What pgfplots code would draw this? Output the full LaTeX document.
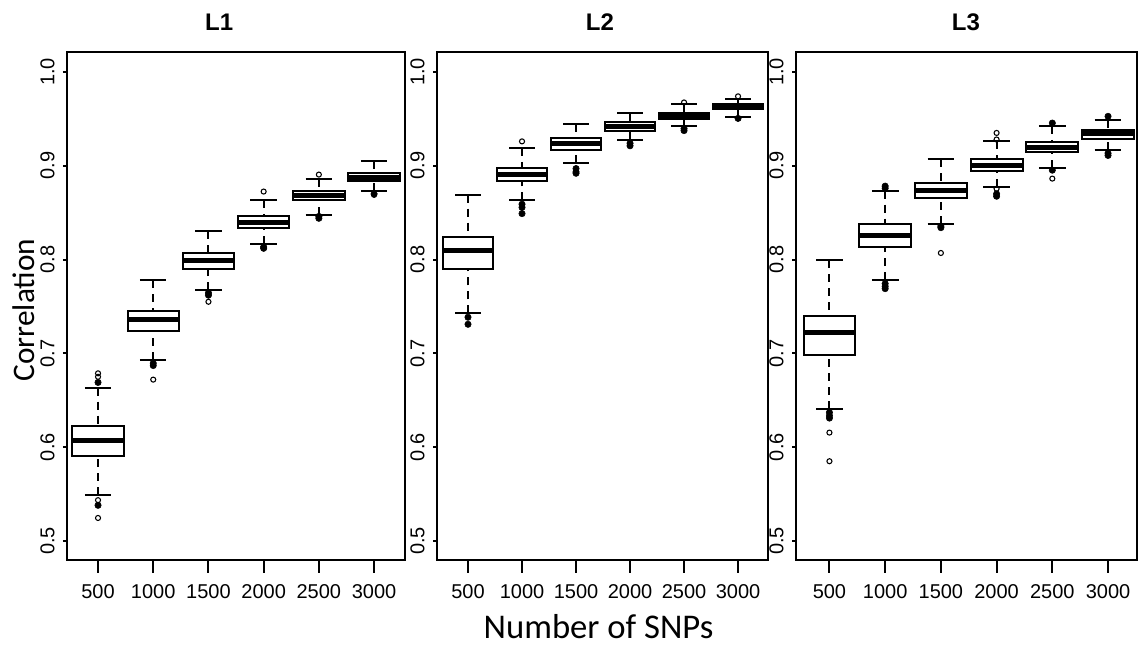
\documentclass[border=0pt]{standalone}
\usepackage{pgfplots}
\pgfplotsset{compat=1.18}
\usepgfplotslibrary{statistics}
\usepackage{fontspec}
\setmainfont{Liberation Sans}
\newfontfamily\calibri{Carlito}

\pgfplotsset{
  panel/.style={
    scale only axis, anchor=south west,
    height=381pt,
    ymin=0.4797, ymax=1.0213,
    ytick={0.5,0.6,0.7,0.8,0.9,1.0},
    yticklabels={0.5,0.6,0.7,0.8,0.9,1.0},
    xtick={1,2,3,4,5,6},
    xticklabels={500,1000,1500,2000,2500,3000},
    tick align=outside, xtick pos=left, ytick pos=left,
    axis line style={line width=1.5pt, black},
    xtick style={line width=1.5pt, black, /pgfplots/major tick length=9.75pt},
    ytick style={line width=1.5pt, black, /pgfplots/major tick length=3pt},
    tick label style={font=\fontsize{15}{18}\selectfont, black},
    yticklabel style={rotate=90, anchor=base, yshift=5.25pt},
    xticklabel style={anchor=base, yshift=-24.75pt},
    title style={font=\bfseries\fontsize{18}{21}\selectfont},
  },
  boxstyle/.style={black, line width=1.5pt, solid,
    mark=o, mark size=1.9pt, mark options={line width=0.8pt, solid},
    boxplot/draw direction=y,
    boxplot/box extend=0.93, boxplot/whisker extend=0.48,
    boxplot/every box/.style={fill=white, draw=black, line width=1.5pt},
    boxplot/every median/.style={line width=3.75pt},
    boxplot/draw/lower whisker/.code={%
      \draw[black, line width=1.5pt, dash pattern=on 6pt off 4.5pt]
        (boxplot box cs:\pgfplotsboxplotvalue{lower whisker},0.5) --
        (boxplot box cs:\pgfplotsboxplotvalue{lower quartile},0.5);
      \draw[black, line width=1.5pt]
        (boxplot whisker cs:\pgfplotsboxplotvalue{lower whisker},0) --
        (boxplot whisker cs:\pgfplotsboxplotvalue{lower whisker},1);
    },
    boxplot/draw/upper whisker/.code={%
      \draw[black, line width=1.5pt, dash pattern=on 6pt off 4.5pt]
        (boxplot box cs:\pgfplotsboxplotvalue{upper whisker},0.5) --
        (boxplot box cs:\pgfplotsboxplotvalue{upper quartile},0.5);
      \draw[black, line width=1.5pt]
        (boxplot whisker cs:\pgfplotsboxplotvalue{upper whisker},0) --
        (boxplot whisker cs:\pgfplotsboxplotvalue{upper whisker},1);
    },
  },
  filled/.style={only marks, mark=*, mark size=2.4pt, black},
}
% draw position, lower whisker, lower quartile, median, upper quartile, upper whisker
\newcommand{\bp}[6]{\addplot[boxstyle, boxplot prepared={draw position=#1, lower whisker=#2, lower quartile=#3, median=#4, upper quartile=#5, upper whisker=#6}]}

\begin{document}
\begin{tikzpicture}
\useasboundingbox (0,0) rectangle (853.5pt,486pt);

% ---------------- L1 ----------------
\begin{axis}[panel, at={(50.25pt,66pt)}, width=253.5pt, xmin=0.438, xmax=6.56,
  title=L1, title style={at={(axis description cs:0.45,1.0177)}},
  ylabel={Correlation},
  ylabel style={font=\calibri\fontsize{23.5}{28}\selectfont, at={(axis description cs:-0.0967,0.492)}, anchor=base}]
\bp{1}{0.5495}{0.591}{0.6076}{0.6227}{0.6635} table[row sep=\\, y index=0] {y\\ 0.6787\\ 0.675\\ 0.5435\\ 0.5245\\};
\bp{2}{0.693}{0.724}{0.7365}{0.745}{0.778} table[row sep=\\, y index=0] {y\\ 0.672\\};
\bp{3}{0.7675}{0.790}{0.799}{0.807}{0.830} table[row sep=\\, y index=0] {y\\ 0.755\\};
\bp{4}{0.817}{0.834}{0.840}{0.8466}{0.8635} table[row sep=\\, y index=0] {y\\ 0.8725\\};
\bp{5}{0.848}{0.863}{0.868}{0.8736}{0.886} table[row sep=\\, y index=0] {y\\ 0.8906\\};
\bp{6}{0.873}{0.8834}{0.888}{0.8924}{0.9054} table[row sep=\\, y index=0] {y\\ 0.869\\};
\addplot[filled] coordinates {(1,0.669) (1,0.538) (2,0.6895) (2,0.687) (3,0.7645) (3,0.762)
  (4,0.8135) (4,0.812) (5,0.846) (5,0.844) (6,0.870)};
\end{axis}

% ---------------- L2 ----------------
\begin{axis}[panel, at={(327.75pt,66pt)}, width=247.9pt, xmin=0.426, xmax=6.546,
  title=L2, title style={at={(axis description cs:0.493,1.0177)}},
  xlabel={Number of SNPs},
  xlabel style={font=\calibri\fontsize{26}{31}\selectfont, at={(axis description cs:0.4887,-0.1555)}, anchor=base}]
\bp{1}{0.7426}{0.790}{0.8097}{0.8238}{0.8693} coordinates {};
\bp{2}{0.863}{0.884}{0.8906}{0.898}{0.919} table[row sep=\\, y index=0] {y\\ 0.926\\};
\bp{3}{0.9025}{0.917}{0.9235}{0.9296}{0.944} coordinates {};
\bp{4}{0.9274}{0.9375}{0.942}{0.9466}{0.9567} coordinates {};
\bp{5}{0.942}{0.950}{0.9534}{0.9567}{0.9657} table[row sep=\\, y index=0] {y\\ 0.9675\\};
\bp{6}{0.9523}{0.9606}{0.963}{0.9657}{0.971} table[row sep=\\, y index=0] {y\\ 0.974\\};
\addplot[filled] coordinates {(1,0.7385) (1,0.731) (2,0.859) (2,0.8556) (2,0.849)
  (3,0.897) (3,0.8935) (3,0.892) (4,0.924) (4,0.9213) (5,0.9397) (5,0.9375) (6,0.9505)};
\end{axis}

% ---------------- L3 ----------------
\begin{axis}[panel, at={(597pt,66pt)}, width=255.75pt, xmin=0.40, xmax=6.52,
  title=L3, title style={at={(axis description cs:0.4985,1.0177)}}]
\bp{1}{0.6408}{0.6986}{0.722}{0.740}{0.799} table[row sep=\\, y index=0] {y\\ 0.6155\\ 0.585\\};
\bp{2}{0.778}{0.813}{0.8256}{0.8383}{0.8736} coordinates {};
\bp{3}{0.838}{0.8653}{0.8733}{0.882}{0.9069} table[row sep=\\, y index=0] {y\\ 0.807\\};
\bp{4}{0.8776}{0.8939}{0.9007}{0.9069}{0.926} table[row sep=\\, y index=0] {y\\ 0.935\\ 0.928\\ 0.8755\\};
\bp{5}{0.898}{0.9148}{0.920}{0.9256}{0.9426} table[row sep=\\, y index=0] {y\\ 0.8863\\};
\bp{6}{0.9173}{0.929}{0.934}{0.9386}{0.9484} coordinates {};
\addplot[filled] coordinates {(1,0.637) (1,0.6336) (1,0.631) (2,0.8783) (2,0.876)
  (2,0.7744) (2,0.7715) (2,0.769) (3,0.8357) (3,0.834) (4,0.870) (4,0.8675)
  (5,0.9455) (5,0.8953) (6,0.9527) (6,0.9134) (6,0.911)};
\end{axis}
\end{tikzpicture}
\end{document}
